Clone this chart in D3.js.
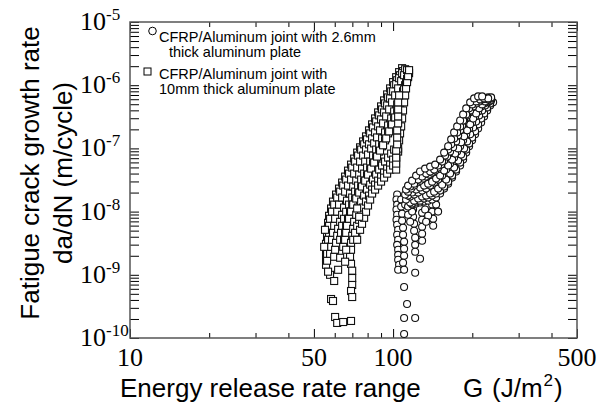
<!DOCTYPE html>
<html>
<head>
<meta charset="utf-8">
<script src="https://cdn.jsdelivr.net/npm/d3@7"></script>
<style>
  body { margin: 0; background: #fff; }
  svg { display: block; }
</style>
</head>
<body>
<div id="chart"></div>
<script>
// 10mm thick aluminum plate (squares) - as [G (J/m2), da/dN (m/cycle)]
const thick10A = [[55.6,1.44e-9],[55.6,1.86e-9],[55.6,2.40e-9],[55.6,3.09e-9],[56.1,3.99e-9],[56.1,5.15e-9],[56.6,6.65e-9],[57.1,8.58e-9],[58.1,1.12e-8],[59.1,1.44e-8],[60.7,1.86e-8],[62.3,2.31e-8],[64.0,2.88e-8],[65.7,3.58e-8],[67.4,4.45e-8],[69.2,5.54e-8],[71.1,6.90e-8],[73.0,8.58e-8],[74.9,1.04e-7],[76.9,1.29e-7],[78.9,1.55e-7],[81.0,1.93e-7],[83.2,2.40e-7],[85.4,2.98e-7],[87.7,3.71e-7],[90.0,4.62e-7],[92.4,5.75e-7],[94.9,7.15e-7],[97.4,8.90e-7],[100,1.12e-6],[102.7,1.34e-6],[105.4,1.61e-6],[108.2,1.86e-6]];
const thick10A2 = [[56.1,1.67e-9],[56.1,2.15e-9],[56.6,2.77e-9],[56.6,3.58e-9],[57.1,4.62e-9],[57.1,5.96e-9],[57.6,7.70e-9],[58.6,1.0e-8],[59.7,1.29e-8],[61.3,1.67e-8],[62.9,2.07e-8],[64.6,2.58e-8],[66.3,3.21e-8],[68.0,3.99e-8],[69.9,4.97e-8],[71.7,6.18e-8],[73.6,7.70e-8],[75.6,9.58e-8],[77.6,1.16e-7],[79.6,1.39e-7],[81.8,1.73e-7],[83.9,2.15e-7],[86.2,2.67e-7],[88.5,3.33e-7],[90.8,4.14e-7],[93.2,5.15e-7],[95.7,6.41e-7],[98.3,7.98e-7],[100.9,1.0e-6],[103.6,1.20e-6],[106.3,1.44e-6],[109.1,1.67e-6]];
const thick10B = [[57.6,2.15e-9],[58.1,2.77e-9],[58.6,3.58e-9],[59.1,4.62e-9],[59.7,5.96e-9],[60.2,7.70e-9],[61.3,1.0e-8],[62.3,1.29e-8],[64.0,1.67e-8],[65.7,2.07e-8],[67.4,2.58e-8],[69.2,3.21e-8],[71.1,3.99e-8],[73.0,4.97e-8],[74.9,6.18e-8],[76.9,7.70e-8],[78.9,9.58e-8],[81.0,1.16e-7],[83.2,1.44e-7],[85.4,1.79e-7],[87.7,2.23e-7],[90.0,2.88e-7],[92.4,3.71e-7],[94.9,4.79e-7],[97.4,6.18e-7],[100,7.98e-7],[102.7,1.04e-6],[105.4,1.29e-6],[108.2,1.55e-6],[111.1,1.79e-6]];
const thick10C = [[59.7,1.93e-9],[60.2,2.49e-9],[60.7,3.21e-9],[61.3,4.14e-9],[61.8,5.35e-9],[62.9,6.90e-9],[64.0,8.90e-9],[65.1,1.16e-8],[66.8,1.49e-8],[68.6,1.93e-8],[70.5,2.49e-8],[72.4,3.09e-8],[74.3,3.85e-8],[76.2,4.79e-8],[78.3,6.18e-8],[80.3,7.98e-8],[82.5,9.93e-8],[84.7,1.20e-7],[86.9,1.49e-7],[89.2,1.93e-7],[91.6,2.49e-7],[94.1,3.21e-7],[96.6,4.14e-7],[99.1,5.35e-7],[101.8,6.90e-7],[104.5,8.90e-7],[107.3,1.16e-6],[110.1,1.44e-6],[113.0,1.73e-6]];
const thick10D = [[62.9,3.58e-9],[63.4,4.62e-9],[64.0,5.96e-9],[65.1,7.70e-9],[66.3,9.93e-9],[68.0,1.29e-8],[69.9,1.67e-8],[71.7,2.07e-8],[73.6,2.58e-8],[75.6,3.21e-8],[77.6,3.99e-8],[79.6,4.97e-8],[81.8,6.18e-8],[83.9,7.70e-8],[86.2,9.58e-8],[88.5,1.16e-7],[90.8,1.44e-7],[93.2,1.79e-7],[95.7,2.31e-7],[98.3,2.98e-7],[100.9,3.85e-7],[103.6,4.97e-7]];
const thick10D2 = [[64.6,2.77e-9],[65.1,3.58e-9],[65.7,4.62e-9],[66.3,5.96e-9],[67.4,7.70e-9],[68.6,1.0e-8],[69.9,1.25e-8],[71.7,1.55e-8],[73.6,1.93e-8],[75.6,2.40e-8],[77.6,2.98e-8],[79.6,3.71e-8],[81.8,4.62e-8],[83.9,5.75e-8],[86.2,7.15e-8],[88.5,8.90e-8],[90.8,1.08e-7],[93.2,1.34e-7],[95.7,1.73e-7],[98.3,2.23e-7],[100.9,2.88e-7],[103.6,3.71e-7],[105.4,4.79e-7],[107.3,6.18e-7],[109.1,7.98e-7],[111.1,1.0e-6],[113.0,1.25e-6],[115.0,1.55e-6]];
const thick10E = [[65.7,3.58e-9],[66.3,4.62e-9],[66.8,5.96e-9],[68.0,7.70e-9],[69.2,1.0e-8],[70.5,1.29e-8],[72.4,1.61e-8],[74.3,2.0e-8],[76.2,2.49e-8],[78.3,3.09e-8],[80.3,3.85e-8],[82.5,4.79e-8],[84.7,5.96e-8],[86.9,7.42e-8],[89.2,9.23e-8],[91.6,1.12e-7],[94.1,1.44e-7],[96.6,1.86e-7],[99.1,2.40e-7],[101.8,3.09e-7],[104.5,3.99e-7],[106.3,5.15e-7],[108.2,6.65e-7],[110.1,8.58e-7],[112.0,1.08e-6],[114.0,1.34e-6]];
const thick10F = [[68.6,1.93e-9],[69.2,2.49e-9],[69.2,3.21e-9],[69.9,4.14e-9],[70.5,5.35e-9],[71.1,6.90e-9],[72.4,8.90e-9],[73.6,1.16e-8],[75.6,1.44e-8],[77.6,1.79e-8],[79.6,2.23e-8],[81.8,2.67e-8],[83.9,3.21e-8],[86.2,3.85e-8],[88.5,4.62e-8],[90.8,5.35e-8],[93.2,6.18e-8],[95.7,7.15e-8],[98.3,8.28e-8],[100.9,9.58e-8],[103.6,1.08e-7],[105.4,1.34e-7],[106.3,1.73e-7],[107.3,2.23e-7],[108.2,2.98e-7],[109.1,3.99e-7],[110.1,5.35e-7],[111.1,6.90e-7],[112.0,8.90e-7],[113.0,1.12e-6],[114.0,1.39e-6],[115.0,1.73e-6]];
const thick10G = [[72.4,4.14e-9],[73.6,5.35e-9],[74.9,6.90e-9],[76.2,8.58e-9],[77.6,1.08e-8],[78.9,1.34e-8],[81.0,1.67e-8],[83.2,2.07e-8],[85.4,2.49e-8],[87.7,2.88e-8],[90.0,3.33e-8],[92.4,3.85e-8],[94.9,4.45e-8],[97.4,5.15e-8],[100,5.96e-8],[102.7,7.15e-8],[104.5,8.90e-8]];
const thick10G2 = [[70.5,3.58e-9],[71.7,4.62e-9],[73.0,5.96e-9],[74.3,7.42e-9],[75.6,9.23e-9],[76.9,1.16e-8],[78.9,1.44e-8],[81.0,1.79e-8],[83.2,2.23e-8],[85.4,2.67e-8],[87.7,3.09e-8],[90.0,3.58e-8],[92.4,4.14e-8],[94.9,4.79e-8],[97.4,5.54e-8],[100,6.65e-8],[102.7,7.98e-8],[104.5,9.93e-8]];
const thick10H = [[74.9,5.15e-9],[76.2,6.41e-9],[77.6,7.98e-9],[78.9,9.93e-9],[80.3,1.25e-8],[81.8,1.55e-8],[83.2,1.93e-8],[85.4,2.23e-8],[87.7,2.58e-8],[90.0,2.98e-8],[92.4,3.45e-8],[94.9,3.99e-8],[97.4,4.62e-8],[100,5.35e-8],[102.7,6.18e-8]];
const thick10I = [[102.7,4.62e-8],[102.7,5.75e-8],[102.7,7.15e-8],[102.7,9.23e-8],[103.6,1.16e-7],[103.6,1.49e-7],[103.6,1.93e-7],[104.5,2.49e-7],[104.5,3.21e-7],[104.5,4.14e-7],[104.5,5.35e-7],[105.4,6.90e-7]];
const thick10Low = [[55.1,5.15e-9],[54.7,2.77e-9],[57.6,1.0e-9],[56.6,1.12e-9],[59.7,7.98e-10],[58.1,4.14e-10],[59.1,3.85e-10],[60.2,2.15e-10],[61.3,1.73e-10],[64.6,1.79e-10],[69.2,1.86e-10],[69.2,1.49e-9],[69.9,1.16e-9],[69.9,8.90e-10],[69.9,6.90e-10],[69.2,5.54e-10],[69.9,4.45e-10],[73.0,3.58e-9],[73.0,1.12e-8],[74.3,8.28e-9],[61.8,1.20e-9],[62.9,1.86e-9],[65.7,1.61e-9],[66.3,2.49e-9]];

// 2.6mm thick aluminum plate (circles)
const thin26A = [[103.6,1.86e-8],[103.0,1.55e-8],[103.6,1.29e-8],[103.0,1.08e-8],[103.6,8.90e-9],[103.0,7.42e-9],[103.6,6.18e-9],[104.5,5.15e-9],[103.6,4.30e-9],[104.5,3.58e-9],[103.6,2.98e-9],[104.5,2.49e-9],[104.5,2.07e-9],[104.5,1.73e-9],[105.4,1.44e-9],[104.5,1.20e-9]];
const thin26B = [[107.3,1.55e-8],[107.3,1.20e-8],[108.2,9.23e-9],[108.2,7.15e-9],[109.1,5.54e-9],[109.1,4.30e-9],[110.1,3.33e-9],[110.1,2.58e-9],[110.1,2.0e-9],[109.1,1.55e-9],[110.1,1.20e-9]];
const thin26C = [[119.1,1.08e-8],[119.1,8.28e-9],[120.2,6.41e-9],[120.2,4.97e-9],[121.3,3.85e-9],[121.3,2.98e-9],[121.3,2.31e-9],[126.6,1.79e-9],[128.9,9.58e-9],[128.9,7.42e-9],[128.9,5.75e-9],[128.9,4.45e-9],[128.9,3.45e-9],[140.7,1.29e-8],[140.7,1.0e-8],[142.0,7.70e-9],[142.0,5.96e-9],[114.0,8.90e-9],[118.1,1.0e-8],[132.3,1.08e-8],[135.9,8.58e-9],[145.7,1.29e-8],[148.3,1.0e-8],[116.1,6.90e-9],[133.5,6.90e-9],[111.1,1.29e-8],[115.0,1.55e-8],[119.1,1.67e-8]];
const thin26Low = [[110.1,6.41e-10],[113.0,3.45e-10],[110.1,2.07e-10],[121.3,2.07e-10],[110.1,1.16e-10],[121.3,1.08e-9]];
const thin26D = [[114.0,1.20e-8],[118.1,1.29e-8],[122.3,1.34e-8],[126.6,1.39e-8],[131.2,1.44e-8],[135.9,1.49e-8],[140.7,1.55e-8],[145.7,1.67e-8],[150.9,1.93e-8],[156.3,2.31e-8],[161.9,2.77e-8],[167.6,3.45e-8],[173.6,4.30e-8],[179.8,5.35e-8],[184.6,6.65e-8],[189.6,8.58e-8],[194.5,1.08e-7],[199.7,1.34e-7],[205.0,1.67e-7],[210.5,2.07e-7],[216.1,2.58e-7],[221.8,3.21e-7],[227.8,3.99e-7],[233.8,4.79e-7],[240.0,5.35e-7]];
const thin26D2 = [[118.1,1.34e-8],[122.3,1.44e-8],[126.6,1.49e-8],[131.2,1.61e-8],[135.9,1.67e-8],[140.7,1.79e-8],[145.7,1.93e-8],[150.9,2.15e-8],[156.3,2.49e-8],[161.9,2.98e-8],[167.6,3.71e-8],[173.6,4.62e-8],[179.8,5.96e-8],[184.6,7.42e-8],[189.6,9.58e-8],[194.5,1.20e-7],[199.7,1.49e-7],[205.0,1.86e-7],[210.5,2.40e-7],[216.1,2.98e-7],[221.8,3.58e-7],[227.8,4.45e-7],[233.8,5.15e-7]];
const thin26E = [[116.1,1.39e-8],[120.2,1.49e-8],[124.5,1.61e-8],[128.9,1.73e-8],[133.5,1.79e-8],[138.3,1.93e-8],[143.2,2.07e-8],[148.3,2.31e-8],[153.6,2.67e-8],[159.1,3.21e-8],[164.7,3.99e-8],[170.6,4.97e-8],[176.7,6.41e-8],[181.4,7.98e-8],[186.2,1.0e-7],[191.2,1.29e-7],[196.3,1.67e-7],[201.5,2.15e-7],[206.8,2.67e-7],[212.3,3.33e-7],[218.0,3.99e-7],[223.8,4.79e-7],[229.8,5.35e-7],[235.8,5.75e-7]];
const thin26F = [[112.0,1.55e-8],[116.1,1.73e-8],[120.2,1.86e-8],[124.5,2.0e-8],[128.9,2.15e-8],[133.5,2.31e-8],[138.3,2.58e-8],[143.2,2.88e-8],[148.3,3.21e-8],[153.6,3.71e-8],[159.1,4.62e-8],[164.7,5.75e-8],[170.6,7.15e-8],[175.2,8.90e-8],[179.8,1.08e-7],[184.6,1.34e-7],[189.6,1.67e-7],[194.5,2.07e-7],[199.7,2.58e-7],[205.0,3.21e-7],[210.5,3.85e-7],[216.1,4.62e-7],[221.8,5.15e-7],[227.8,5.54e-7],[233.8,5.75e-7]];
const thin26F2 = [[114.0,1.79e-8],[118.1,2.0e-8],[122.3,2.23e-8],[126.6,2.40e-8],[131.2,2.58e-8],[135.9,2.77e-8],[140.7,2.98e-8],[145.7,3.33e-8],[150.9,3.71e-8],[156.3,4.45e-8],[161.9,5.35e-8],[167.6,6.65e-8],[172.1,8.28e-8],[176.7,1.0e-7],[181.4,1.25e-7],[186.2,1.55e-7],[191.2,1.93e-7],[196.3,2.40e-7],[201.5,2.98e-7],[206.8,3.58e-7],[212.3,4.30e-7],[218.0,4.97e-7],[223.8,5.54e-7],[229.8,5.96e-7],[235.8,6.18e-7]];
const thin26G = [[111.1,1.86e-8],[114.0,2.07e-8],[117.1,2.31e-8],[120.2,2.58e-8],[123.4,2.88e-8],[126.6,3.09e-8],[130.0,3.33e-8],[133.5,3.58e-8],[137.1,3.85e-8],[140.7,4.14e-8],[144.5,4.45e-8],[148.3,4.97e-8],[152.3,5.54e-8],[156.3,6.41e-8],[160.5,7.42e-8],[164.7,8.90e-8],[169.1,1.04e-7],[173.6,1.29e-7],[176.7,1.61e-7],[179.8,1.93e-7],[183.0,2.31e-7],[186.2,2.77e-7],[191.2,3.33e-7],[196.3,3.99e-7],[201.5,4.62e-7],[206.8,5.15e-7],[212.3,5.54e-7],[218.0,5.96e-7],[223.8,6.18e-7],[229.8,6.41e-7],[235.8,6.41e-7]];
const thin26H = [[112.0,2.23e-8],[116.1,2.49e-8],[120.2,2.77e-8],[124.5,3.21e-8],[128.9,3.58e-8],[133.5,3.99e-8],[138.3,4.30e-8],[143.2,4.62e-8],[148.3,5.35e-8],[153.6,6.18e-8],[157.6,7.70e-8],[161.9,9.58e-8],[166.2,1.16e-7],[170.6,1.44e-7],[175.2,1.79e-7],[179.8,2.23e-7],[184.6,2.77e-7],[189.6,3.45e-7],[194.5,4.30e-7],[199.7,4.97e-7],[206.8,5.54e-7],[214.2,5.96e-7],[221.8,6.18e-7],[229.8,6.18e-7]];
const thin26I = [[114.0,2.58e-8],[118.1,3.09e-8],[122.3,3.71e-8],[126.6,4.30e-8],[132.3,4.79e-8],[138.3,5.15e-8],[144.5,5.54e-8],[150.9,6.65e-8],[156.3,8.58e-8],[161.9,1.08e-7],[166.2,1.39e-7],[170.6,1.79e-7],[175.2,2.23e-7],[179.8,2.77e-7],[184.6,3.45e-7],[189.6,4.30e-7],[196.3,5.35e-7],[203.2,6.18e-7],[210.5,6.65e-7],[218.0,6.65e-7]];

const xMajor = [10, 50, 100, 500];
const xMinor = [20, 30, 40, 60, 70, 80, 90, 200, 300, 400];
const yExponents = [-5, -6, -7, -8, -9, -10];
const legendCircle = ["CFRP/Aluminum joint with 2.6mm", "thick aluminum plate"];
const legendSquare = ["CFRP/Aluminum joint with", "10mm thick aluminum plate"];

const thick10 = [].concat(thick10A, thick10A2, thick10B, thick10C, thick10D, thick10D2, thick10E,
    thick10F, thick10G, thick10G2, thick10H, thick10I, thick10Low);
const thin26 = [].concat(thin26A, thin26B, thin26C, thin26Low, thin26D, thin26D2, thin26E,
    thin26F, thin26F2, thin26G, thin26H, thin26I);

const margin = {top: 22, right: 35, bottom: 82, left: 130},
    width = 612 - margin.left - margin.right,
    height = 420 - margin.top - margin.bottom;

const x = d3.scaleLog().domain([10, 500]).range([0, width]);
const y = d3.scaleLog().domain([1e-10, 1e-5]).range([height, 0]);

const svg = d3.select("#chart").append("svg")
    .attr("width", 612)
    .attr("height", 420)
    .append("g")
    .attr("transform", "translate(" + margin.left + "," + margin.top + ")");

// minor ticks on y: 1..9 x 10^k
const yTicks = [];
for (let k = -10; k < -5; k++) {
    for (let m = 1; m < 10; m++) yTicks.push(m * Math.pow(10, k));
}
yTicks.push(1e-5);

function noDomain(g) { g.select(".domain").remove(); }

svg.append("g").call(d3.axisLeft(y).tickValues(yTicks).tickSize(-9).tickFormat("")).call(noDomain);
svg.append("g").attr("transform", "translate(" + width + ",0)")
    .call(d3.axisRight(y).tickValues(yTicks).tickSize(-9).tickFormat("")).call(noDomain);

[[xMajor, 9], [xMinor, 5]].forEach(function (t) {
    svg.append("g").attr("transform", "translate(0," + height + ")")
        .call(d3.axisBottom(x).tickValues(t[0]).tickSize(-t[1]).tickFormat("")).call(noDomain);
    svg.append("g")
        .call(d3.axisTop(x).tickValues(t[0]).tickSize(-t[1]).tickFormat("")).call(noDomain);
});
svg.selectAll(".tick line").attr("stroke", "#000").attr("stroke-width", 1);

svg.append("rect")
    .attr("width", width).attr("height", height)
    .attr("fill", "none").attr("stroke", "#555").attr("stroke-width", 1.5);

// tick labels
const serif = "'Liberation Serif', 'Times New Roman', serif";
svg.selectAll(".xlab").data(xMajor).enter().append("text")
    .attr("x", function (d) { return x(d); })
    .attr("y", height + 28)
    .attr("text-anchor", "middle")
    .attr("font-family", serif).attr("font-size", 26)
    .text(function (d) { return d; });

const yl = svg.selectAll(".ylab").data(yExponents).enter().append("text")
    .attr("x", -50)
    .attr("y", function (d) { return y(Math.pow(10, d)) + 8; })
    .attr("font-family", serif).attr("font-size", 26);
yl.append("tspan").text("10");
yl.append("tspan").attr("dy", -10).attr("font-size", 17).text(function (d) { return "-" + Math.abs(d); });

// axis titles
const sans = "'Liberation Sans', Arial, sans-serif";
const xt = svg.append("text").attr("y", 375).attr("font-family", sans).attr("font-size", 26);
xt.append("tspan").attr("x", -10).text("Energy release rate range");
xt.append("tspan").attr("x", 333).text("G");
xt.append("tspan").attr("x", 362).text("(J/m");
xt.append("tspan").attr("dx", 1).attr("dy", -11).attr("font-size", 17).text("2");
xt.append("tspan").attr("dx", 1).attr("dy", 11).text(")");

svg.append("text").attr("transform", "translate(-91,151) rotate(-90)")
    .attr("text-anchor", "middle").attr("font-family", sans).attr("font-size", 26)
    .text("Fatigue crack growth rate");
svg.append("text").attr("transform", "translate(-58,151) rotate(-90)")
    .attr("text-anchor", "middle").attr("font-family", sans).attr("font-size", 26)
    .text("da/dN (m/cycle)");

// data
svg.append("g").selectAll("rect").data(thick10).enter().append("rect")
    .attr("x", function (d) { return x(d[0]) - 3.5; })
    .attr("y", function (d) { return y(d[1]) - 3.5; })
    .attr("width", 7).attr("height", 7)
    .attr("fill", "#fff").attr("stroke", "#111").attr("stroke-width", 1.1);

svg.append("g").selectAll("circle").data(thin26).enter().append("circle")
    .attr("cx", function (d) { return x(d[0]); })
    .attr("cy", function (d) { return y(d[1]); })
    .attr("r", 3.5)
    .attr("fill", "#fff").attr("stroke", "#111").attr("stroke-width", 1.1);

// legend
const leg = svg.append("g").attr("font-family", sans).attr("font-size", 14.5);
leg.append("circle").attr("cx", 22.5).attr("cy", 9).attr("r", 3.8)
    .attr("fill", "#fff").attr("stroke", "#000");
leg.append("text").attr("x", 29).attr("y", 20).text(legendCircle[0]);
leg.append("text").attr("x", 39).attr("y", 34.5).text(legendCircle[1]);
leg.append("rect").attr("x", 14).attr("y", 46).attr("width", 7).attr("height", 7)
    .attr("fill", "#fff").attr("stroke", "#000");
leg.append("text").attr("x", 29).attr("y", 57).text(legendSquare[0]);
leg.append("text").attr("x", 29).attr("y", 71.5).text(legendSquare[1]);
</script>
</body>
</html>
